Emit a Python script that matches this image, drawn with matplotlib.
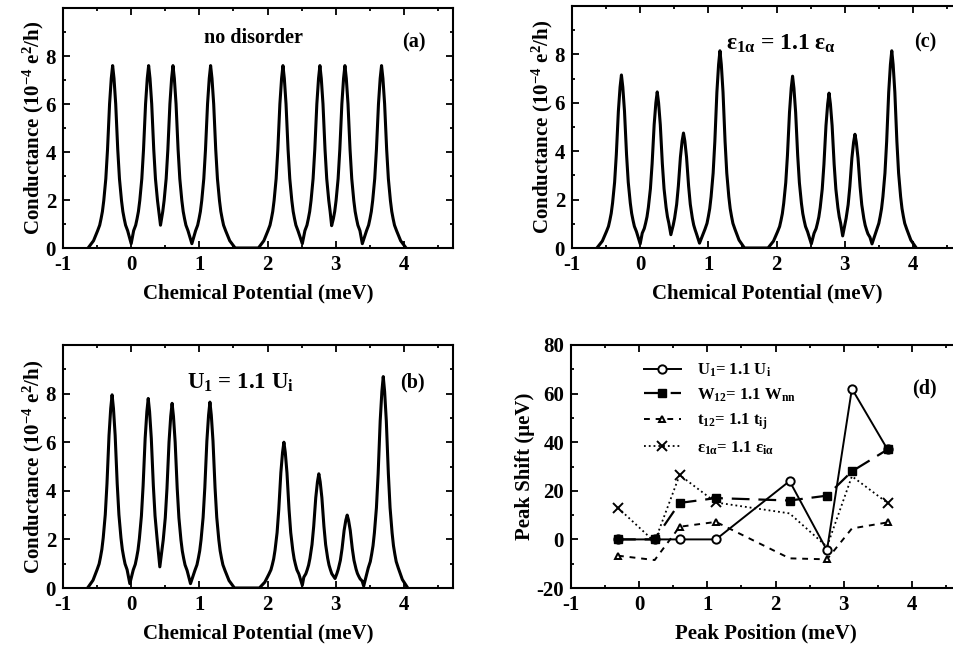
import matplotlib
matplotlib.use('Agg')
import matplotlib.pyplot as plt
from matplotlib.ticker import MultipleLocator, FixedLocator

plt.rcParams['font.family'] = 'Liberation Serif'
plt.rcParams['font.weight'] = 'bold'
plt.rcParams['axes.labelweight'] = 'bold'
plt.rcParams['mathtext.fontset'] = 'custom'
plt.rcParams['mathtext.rm'] = 'Liberation Serif:bold'
plt.rcParams['mathtext.it'] = 'Liberation Serif:bold'
plt.rcParams['mathtext.bf'] = 'Liberation Serif:bold'
plt.rcParams['axes.unicode_minus'] = False

# peak shape: offset from centre (meV), fraction of peak height
prof_dx = [0.0, 0.02, 0.045, 0.075, 0.10, 0.13, 0.15, 0.17, 0.19, 0.22, 0.28, 0.36]
prof_f = [1.0, 0.93, 0.79, 0.54, 0.38, 0.26, 0.20, 0.16, 0.125, 0.095, 0.04, 0.0]

# (a) no disorder
a_pos = [-0.272, 0.256, 0.613, 1.165, 2.226, 2.768, 3.135, 3.672]
a_height = [7.6, 7.6, 7.6, 7.6, 7.6, 7.6, 7.6, 7.6]
a_valley_x = [0.0, 0.43, 0.89, 1.70, 2.51, 2.94, 3.39]
a_valley_y = [0.18, 0.95, 0.18, 0.0, 0.18, 0.93, 0.18]

# (b) U1 = 1.1 Ui
b_pos = [-0.28, 0.25, 0.60, 1.155, 2.24, 2.752, 3.168, 3.697]
b_height = [7.95, 7.8, 7.6, 7.65, 6.0, 4.7, 3.0, 8.7]
b_valley_x = [-0.02, 0.42, 0.87, 1.70, 2.51, 2.99, 3.41]
b_valley_y = [0.18, 0.87, 0.18, 0.0, 0.11, 0.39, 0.08]

# (c) eps_1a = 1.1 eps_a
c_pos = [-0.275, 0.25, 0.635, 1.17, 2.235, 2.77, 3.15, 3.69]
c_height = [7.15, 6.45, 4.75, 8.15, 7.1, 6.4, 4.7, 8.15]
c_valley_x = [0.0, 0.45, 0.87, 1.70, 2.51, 2.97, 3.40]
c_valley_y = [0.17, 0.55, 0.2, 0.0, 0.17, 0.5, 0.17]

# (d) peak shifts
d_pos = [-0.311, 0.227, 0.593, 1.126, 2.206, 2.754, 3.12, 3.643]
shift_U = [0, 0, 0, 0, 24, -4.5, 62, 37]
shift_W = [0, 0, 15, 17, 16, 18, 28, 37]
shift_t = [-6.7, -8.5, 5.2, 7.2, -7.8, -8.2, 4.5, 7.0]
shift_eps = [13, -1, 26.5, 15.2, 10.7, -3, 26, 15]


def trace(pos, height, vx, vy):
    xs, ys = [], []
    left_y = [0.0] + vy
    right_y = vy + [0.0]
    left_x = [-10.0] + vx
    right_x = vx + [10.0]
    for i in range(len(pos)):
        h = height[i]
        for dx, f in reversed(list(zip(prof_dx, prof_f))):
            if dx > 0 and f * h >= left_y[i] and pos[i] - dx > left_x[i] + 0.02:
                xs.append(pos[i] - dx)
                ys.append(f * h)
        xs.append(pos[i])
        ys.append(h)
        for dx, f in zip(prof_dx, prof_f):
            if dx > 0 and f * h >= right_y[i] and pos[i] + dx < right_x[i] - 0.02:
                xs.append(pos[i] + dx)
                ys.append(f * h)
        if i < len(vx):
            xs.append(vx[i])
            ys.append(vy[i])
    return xs, ys


def style(ax, ymin):
    ax.set_xlim(-1, 4.72)
    ax.xaxis.set_major_locator(MultipleLocator(1))
    ax.xaxis.set_minor_locator(MultipleLocator(0.5))
    ax.yaxis.set_minor_locator(MultipleLocator(ymin))
    ax.tick_params(which='both', direction='in', top=True, right=True, width=1.3)
    ax.tick_params(which='major', length=5, labelsize=15, pad=5)
    ax.tick_params(which='minor', length=2.5)
    for s in ax.spines.values():
        s.set_linewidth(1.5)


W, H = 954, 653
fig = plt.figure(figsize=(W / 100, H / 100), dpi=100)
ax_a = fig.add_axes([63 / W, 1 - 248 / H, 390 / W, 240 / H])
ax_c = fig.add_axes([572 / W, 1 - 248 / H, 390 / W, 242 / H])
ax_b = fig.add_axes([63 / W, 1 - 588 / H, 390 / W, 243 / H])
ax_d = fig.add_axes([571 / W, 1 - 588 / H, 390 / W, 243 / H])

ylab = 'Conductance (10$^{-4}$ e$^2$/h)'
panels = [(ax_a, a_pos, a_height, a_valley_x, a_valley_y),
          (ax_b, b_pos, b_height, b_valley_x, b_valley_y),
          (ax_c, c_pos, c_height, c_valley_x, c_valley_y)]
for ax, pos, hgt, vx, vy in panels:
    xs, ys = trace(pos, hgt, vx, vy)
    ax.plot(xs, ys, color='black', lw=2.2, solid_joinstyle='round')
    style(ax, 1)
    ax.yaxis.set_major_locator(FixedLocator([0, 2, 4, 6, 8]))
    ax.set_ylim(0, 10)
    ax.set_xlabel('Chemical Potential (meV)', fontsize=15, labelpad=6)
    ax.set_ylabel(ylab, fontsize=15, labelpad=0)

ax_a.text(1.8, 8.75, 'no disorder', fontsize=14.5, ha='center', va='center')
ax_a.text(4.15, 8.55, '(a)', fontsize=14.5, ha='center', va='center')
ax_b.text(1.6, 8.45, 'U$_1$ = 1.1 U$_i$', fontsize=16.5, ha='center', va='center')
ax_b.text(4.13, 8.45, '(b)', fontsize=14.5, ha='center', va='center')
ax_c.text(2.06, 8.45, '$ε_{1α}$ = 1.1 $ε_{α}$', fontsize=17, ha='center', va='center')
ax_c.text(4.18, 8.5, '(c)', fontsize=14.5, ha='center', va='center')

ax_d.plot(d_pos, shift_eps, color='black', ls=':', lw=1.3, marker='x', ms=7,
          mew=1.4, markevery=[0, 2, 3, 7], label='$ε_{1α}$= 1.1 $ε_{iα}$')
ax_d.plot(d_pos, shift_t, color='black', ls=(0, (3, 3)), lw=1.4, marker='^', ms=5,
          mfc='white', mew=1.4, markevery=[0, 2, 3, 5, 7], label='t$_{12}$= 1.1 t$_{ij}$')
ax_d.plot(d_pos, shift_U, color='black', ls='-', lw=1.4, marker='o', ms=6,
          mfc='white', mew=1.4, label='U$_1$= 1.1 U$_i$')
ax_d.plot(d_pos, shift_W, color='black', ls=(0, (8, 4)), lw=1.6, marker='s', ms=6,
          label='W$_{12}$= 1.1 W$_{nn}$')
style(ax_d, 10)
ax_d.yaxis.set_major_locator(MultipleLocator(20))
ax_d.set_ylim(-20, 80)
ax_d.set_xlabel('Peak Position (meV)', fontsize=15, labelpad=6)
ax_d.set_ylabel('Peak Shift (μeV)', fontsize=15, labelpad=1)
ax_d.text(4.19, 62, '(d)', fontsize=14.5, ha='center', va='center')

h, l = ax_d.get_legend_handles_labels()
order = [2, 3, 1, 0]
ax_d.legend([h[i] for i in order], [l[i] for i in order], loc='upper left',
            bbox_to_anchor=(0.17, 0.96), frameon=False, fontsize=12,
            handlelength=2.2, handletextpad=1.0, labelspacing=0.45, borderaxespad=0)

fig.savefig('out.png', dpi=100)
